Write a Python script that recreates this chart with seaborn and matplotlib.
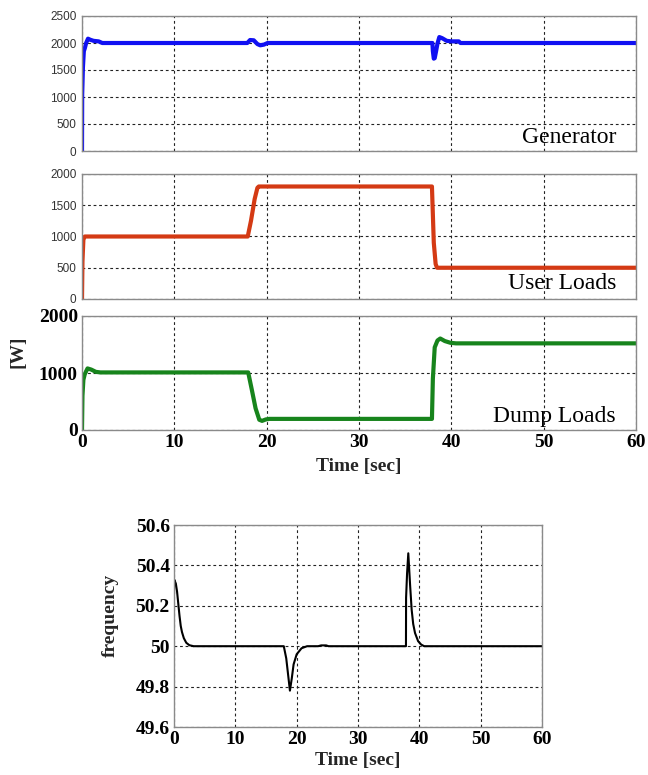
import numpy as np
import pandas as pd
import matplotlib
matplotlib.use("Agg")
import matplotlib.pyplot as plt
import seaborn as sns

# ---------------- data ----------------
gen_t = [0, 0.02, 0.1, 0.2, 0.3, 0.45, 0.65, 0.9, 1.25, 1.8, 2.2, 17.9, 18.2, 18.6, 19.0, 19.3, 19.7, 20.1,
         37.95, 38.0, 38.1, 38.2, 38.35, 38.5, 38.7, 39.0, 39.5, 40.0, 40.8, 41.0, 60]
gen_y = [0, 1050, 1550, 1850, 1900, 2000, 2080, 2060, 2040, 2030, 2000, 2000, 2055, 2050, 1980, 1957, 1970, 2000,
         2000, 1850, 1710, 1720, 1850, 1990, 2110, 2090, 2040, 2030, 2030, 2000, 2000]

user_t = [0, 0.05, 0.15, 0.3, 17.95, 18.3, 18.7, 19.0, 19.15, 37.9, 38.0, 38.1, 38.3, 38.45, 60]
user_y = [0, 600, 950, 1000, 1000, 1250, 1600, 1780, 1800, 1800, 1350, 900, 560, 500, 500]

dump_t = [0, 0.05, 0.15, 0.3, 0.6, 1.0, 1.5, 2.0, 18.0, 18.4, 18.8, 19.2, 19.5, 19.9, 20.3,
          37.9, 38.0, 38.2, 38.5, 38.8, 39.3, 39.9, 40.5, 60]
dump_y = [0, 600, 880, 980, 1080, 1060, 1020, 1010, 1010, 700, 380, 180, 160, 185, 195,
          195, 900, 1450, 1570, 1605, 1560, 1530, 1520, 1520]

freq_t = [0, 0.03, 0.1, 0.3, 0.5, 0.7, 0.9, 1.1, 1.3, 1.6, 2.0, 2.5, 3.2, 17.9, 18.3, 18.6, 18.9, 19.2, 19.5,
          20.0, 20.8, 21.7, 23.5, 24.0, 24.8, 25.2, 37.82, 37.84, 38.0, 38.2, 38.5, 38.75, 39.0, 39.3, 39.8,
          40.3, 40.8, 60]
freq_y = [50.26, 50.33, 50.325, 50.31, 50.27, 50.21, 50.15, 50.1, 50.07, 50.04, 50.017, 50.005, 50.0, 50.0,
          49.94, 49.86, 49.78, 49.84, 49.91, 49.96, 49.99, 50.0, 50.0, 50.004, 50.004, 50.0, 50.0, 50.24,
          50.36, 50.46, 50.3, 50.18, 50.11, 50.065, 50.025, 50.008, 50.0, 50.0]

panel_names = ["Generator", "User Loads", "Dump Loads"]
x_ticks = [0, 10, 20, 30, 40, 50, 60]
gen_yticks = [0, 500, 1000, 1500, 2000, 2500]
user_yticks = [0, 500, 1000, 1500, 2000]
dump_yticks = [0, 1000, 2000]
freq_yticks = [49.6, 49.8, 50.0, 50.2, 50.4, 50.6]
freq_yticklabels = ["49.6", "49.8", "50", "50.2", "50.4", "50.6"]

# ---------------- figure ----------------
sns.set_theme(style="white")
plt.rcParams["font.family"] = ["Liberation Serif", "DejaVu Sans"]

W, H = 648, 775
fig = plt.figure(figsize=(W / 100, H / 100), dpi=100)


def add_ax(l, t, r, b):
    return fig.add_axes([l / W, 1 - b / H, (r - l) / W, (b - t) / H])


ax1 = add_ax(82, 16, 636, 151)
ax2 = add_ax(82, 174, 636, 299)
ax3 = add_ax(82, 316, 636, 430)
ax4 = add_ax(174, 525, 542, 727)

sns.lineplot(x=gen_t, y=gen_y, ax=ax1, color="#1010f2", linewidth=3.0, estimator=None, sort=False)
sns.lineplot(x=user_t, y=user_y, ax=ax2, color="#d43a14", linewidth=3.0, estimator=None, sort=False)
sns.lineplot(x=dump_t, y=dump_y, ax=ax3, color="#17841c", linewidth=3.0, estimator=None, sort=False)
sns.lineplot(x=freq_t, y=freq_y, ax=ax4, color="black", linewidth=1.5, estimator=None, sort=False)


def style(ax, ylim, yticks):
    ax.set_xlim(0, 60)
    ax.set_ylim(*ylim)
    ax.set_xticks(x_ticks)
    ax.set_yticks(yticks)
    ax.set_axisbelow(True)
    ax.grid(True, color="#222222", linestyle=(0, (2.5, 2.5)), linewidth=0.8)
    for s in ax.spines.values():
        s.set_color("#8a8a8a")
        s.set_linewidth(1.0)
    ax.tick_params(length=0, pad=4)
    ax.set_xlabel("")
    ax.set_ylabel("")


style(ax1, (0, 2500), gen_yticks)
style(ax2, (0, 2000), user_yticks)
style(ax3, (0, 2000), dump_yticks)
style(ax4, (49.6, 50.6), freq_yticks)
ax4.set_yticklabels(freq_yticklabels)

for ax in (ax1, ax2):
    ax.tick_params(labelbottom=False)
    for lab in ax.get_yticklabels():
        lab.set_fontfamily("Liberation Sans")
        lab.set_fontsize(8.5)
        lab.set_color("#333333")

for ax in (ax3, ax4):
    ax.tick_params(pad=3)
    for lab in ax.get_yticklabels() + ax.get_xticklabels():
        lab.set_fontfamily("Liberation Serif")
        lab.set_fontweight("bold")
        lab.set_fontsize(14)
        lab.set_color("black")

# panel names
for ax, name, yb in zip((ax1, ax2, ax3), panel_names, (8 / 135, 10 / 125, 8 / 114)):
    ax.text(1 - 20 / 554, yb, name, transform=ax.transAxes, ha="right", va="baseline",
            fontsize=17, family="Liberation Serif", color="black")

# axis labels
fig.text(359 / W, 1 - 466 / H, "Time [sec]", ha="center", va="center", fontsize=14, fontweight="bold")
fig.text(358 / W, 1 - 761 / H, "Time [sec]", ha="center", va="center", fontsize=14, fontweight="bold")
fig.text(18 / W, 1 - 352 / H, "[W]", ha="center", va="center", rotation=90, fontsize=14, fontweight="bold")
fig.text(110 / W, 1 - 615 / H, "frequency", ha="center", va="center", rotation=90, fontsize=14, fontweight="bold")

fig.savefig("out.png", dpi=100)
